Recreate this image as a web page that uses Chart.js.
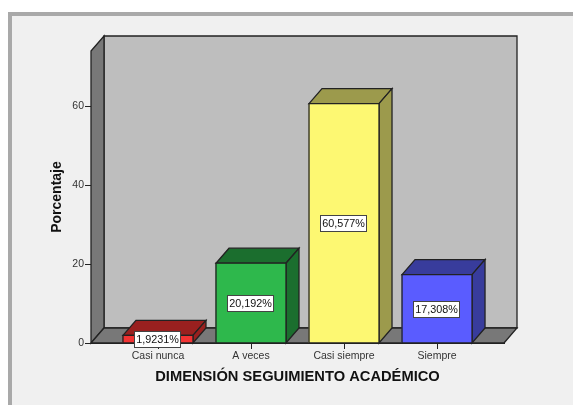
<!DOCTYPE html>
<html>
<head>
<meta charset="utf-8">
<script src="https://cdn.jsdelivr.net/npm/chart.js@4"></script>
<style>
  html, body { margin: 0; padding: 0; background: #fff; }
  #frame { position: absolute; left: 8px; top: 12px; width: 565px; height: 393px; box-sizing: border-box;
           background: #f0f0f0; border-left: 4px solid #a9a9a9; border-top: 4px solid #a9a9a9; }
  #chart { position: absolute; left: 0; top: 0; }
</style>
</head>
<body>
<div id="frame"></div>
<canvas id="chart" width="573" height="405"></canvas>
<script>
const categories = ["Casi nunca", "A veces", "Casi siempre", "Siempre"];
const percentages = [1.9231, 20.192, 60.577, 17.308];
const valueLabels = ["1,9231%", "20,192%", "60,577%", "17,308%"];
const frontColors = ["#f23333", "#2eb84c", "#fdf872", "#5a5cff"];
const darkColors = ["#99201f", "#1b6e2e", "#9c9a4c", "#383c9c"];
const yTicks = [0, 20, 40, 60];

const depthX = 13;
const depthY = 15;
const lineColor = "#222222";

function face(ctx, points, fill) {
  ctx.beginPath();
  ctx.moveTo(points[0][0], points[0][1]);
  points.slice(1).forEach(p => ctx.lineTo(p[0], p[1]));
  ctx.closePath();
  ctx.fillStyle = fill;
  ctx.fill();
  ctx.lineWidth = 1.3;
  ctx.strokeStyle = lineColor;
  ctx.stroke();
}

// back wall, side wall, floor and tick marks, behind the bars
const wallsPlugin = {
  id: "walls",
  beforeDatasetsDraw(chart) {
    const { ctx, chartArea: a, scales } = chart;
    const l = a.left, r = a.right, t = a.top, b = a.bottom;
    ctx.save();
    face(ctx, [[l + depthX, t - depthY], [r + depthX, t - depthY], [r + depthX, b - depthY], [l + depthX, b - depthY]], "#bebebe");
    face(ctx, [[l, t], [l + depthX, t - depthY], [l + depthX, b - depthY], [l, b]], "#787878");
    face(ctx, [[l, b], [l + depthX, b - depthY], [r + depthX, b - depthY], [r, b]], "#787878");
    ctx.strokeStyle = lineColor;
    ctx.lineWidth = 1;
    ctx.beginPath();
    yTicks.forEach(v => {
      const y = Math.round(scales.y.getPixelForValue(v)) + 0.5;
      ctx.moveTo(l - 6, y);
      ctx.lineTo(l, y);
    });
    categories.forEach((c, i) => {
      const x = Math.round(scales.x.getPixelForValue(i)) + 0.5;
      ctx.moveTo(x, b);
      ctx.lineTo(x, b + 6);
    });
    ctx.stroke();
    ctx.restore();
  }
};

// turns each bar into a box and puts its white label on top
const boxPlugin = {
  id: "boxes",
  afterDatasetsDraw(chart) {
    const { ctx } = chart;
    const bars = chart.getDatasetMeta(0).data;
    ctx.save();
    bars.forEach((bar, i) => {
      const half = bar.width / 2;
      const l = bar.x - half, r = bar.x + half, t = bar.y, b = bar.base;
      face(ctx, [[l, t], [l + depthX, t - depthY], [r + depthX, t - depthY], [r, t]], darkColors[i]);
      face(ctx, [[r, t], [r + depthX, t - depthY], [r + depthX, b - depthY], [r, b]], darkColors[i]);
      face(ctx, [[l, t], [r, t], [r, b], [l, b]], frontColors[i]);
    });
    ctx.font = "10.8px 'Liberation Sans'";
    ctx.textAlign = "center";
    ctx.textBaseline = "middle";
    bars.forEach((bar, i) => {
      const w = 46, h = 16;
      const cy = Math.round((bar.y + bar.base) / 2);
      const bx = Math.round(bar.x - w / 2) - 0.5;
      ctx.fillStyle = "#ffffff";
      ctx.fillRect(bx, cy - h / 2 + 0.5, w, h);
      ctx.lineWidth = 1;
      ctx.strokeStyle = "#444444";
      ctx.strokeRect(bx, cy - h / 2 + 0.5, w, h);
      ctx.fillStyle = "#111111";
      ctx.fillText(valueLabels[i], bx + w / 2, cy + 1);
    });
    ctx.restore();
  }
};

new Chart(document.getElementById("chart"), {
  type: "bar",
  data: {
    datasets: [{
      data: percentages.map((v, i) => ({ x: i, y: v })),
      backgroundColor: frontColors,
      barThickness: 70
    }]
  },
  options: {
    responsive: false,
    animation: false,
    layout: { padding: { left: 49, right: 69, top: 51, bottom: 0 } },
    plugins: { legend: { display: false }, tooltip: { enabled: false } },
    scales: {
      x: {
        type: "linear",
        offset: false,
        min: -0.72,
        max: 3.72,
        afterBuildTicks(axis) { axis.ticks = categories.map((c, i) => ({ value: i })); },
        afterFit(axis) { axis.height = 62; },
        grid: { display: false, drawTicks: false },
        border: { color: lineColor },
        ticks: {
          autoSkip: false, maxRotation: 0, padding: 7,
          color: "#333333",
          font: { family: "'Liberation Sans'", size: 10.5 },
          callback: (v) => categories[v]
        },
        title: {
          display: true,
          text: "DIMENSIÓN SEGUIMIENTO ACADÉMICO",
          color: "#111111",
          font: { family: "'Liberation Sans'", size: 14.7, weight: "bold" },
          padding: { top: 8, bottom: 19 }
        }
      },
      y: {
        min: 0,
        max: 73.9,
        afterBuildTicks(axis) { axis.ticks = yTicks.map(v => ({ value: v })); },
        afterFit(axis) { axis.width = 42; },
        grid: { display: false },
        border: { color: lineColor },
        ticks: {
          color: "#333333",
          font: { family: "'Liberation Sans'", size: 10.5 },
          padding: -1
        },
        title: {
          display: true,
          text: "Porcentaje",
          color: "#111111",
          font: { family: "'Liberation Sans'", size: 14, weight: "bold" },
          padding: { top: 0, bottom: 6 }
        }
      }
    }
  },
  plugins: [wallsPlugin, boxPlugin]
});
</script>
</body>
</html>
